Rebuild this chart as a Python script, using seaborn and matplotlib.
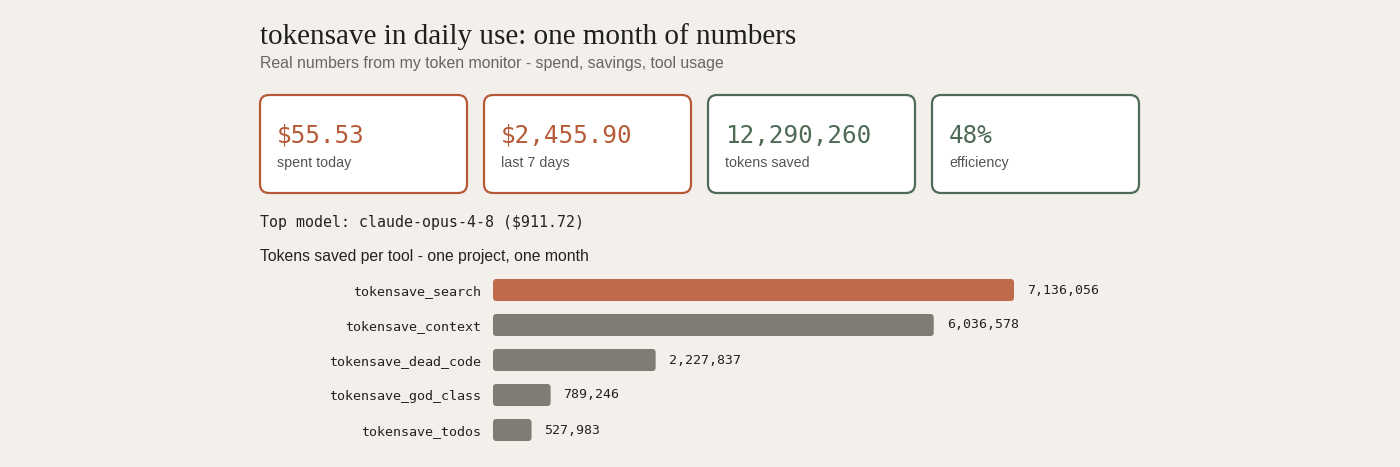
import matplotlib
matplotlib.use("Agg")
import matplotlib.pyplot as plt
from matplotlib.patches import FancyBboxPatch
import seaborn as sns
import pandas as pd

# Data
title = "tokensave in daily use: one month of numbers"
subtitle = "Real numbers from my token monitor - spend, savings, tool usage"
card_values = ["$55.53", "$2,455.90", "12,290,260", "48%"]
card_labels = ["spent today", "last 7 days", "tokens saved", "efficiency"]
card_kinds = ["cost", "cost", "saving", "saving"]
top_model = "Top model: claude-opus-4-8 ($911.72)"
chart_title = "Tokens saved per tool - one project, one month"
tools = ["tokensave_search", "tokensave_context", "tokensave_dead_code",
         "tokensave_god_class", "tokensave_todos"]
tokens_saved = [7136056, 6036578, 2227837, 789246, 527983]

# Style
BG = "#f3f0eb"
ORANGE = "#b65a37"
ORANGE_BAR = "#c06a4c"
GREEN = "#4d6a56"
GREY_BAR = "#807c74"
kind_color = {"cost": ORANGE, "saving": GREEN}

sns.set_theme(style="white")
plt.rcParams["font.family"] = ["Liberation Sans", "DejaVu Sans"]

W, H = 1400, 467
fig = plt.figure(figsize=(W / 100, H / 100), dpi=100, facecolor=BG)

# overlay axes in pixel coordinates for text and cards
lay = fig.add_axes([0, 0, 1, 1])
lay.set_xlim(0, W)
lay.set_ylim(H, 0)
lay.axis("off")
lay.set_facecolor(BG)

lay.text(260, 44, title, family="Liberation Serif", fontsize=21,
         color="#1f1f1f", va="baseline", ha="left")
lay.text(260, 68, subtitle, fontsize=11.4, color="#666666",
         va="baseline", ha="left")

card_x0, card_w, card_gap = 260, 207, 17
card_y0, card_h = 95, 98
for i, (val, lab, kind) in enumerate(zip(card_values, card_labels, card_kinds)):
    x = card_x0 + i * (card_w + card_gap)
    col = kind_color[kind]
    lay.add_patch(FancyBboxPatch((x, card_y0), card_w, card_h,
                                 boxstyle="round,pad=0,rounding_size=9",
                                 facecolor="white", edgecolor=col, linewidth=1.6))
    lay.text(x + 17, 143, val, family="DejaVu Sans Mono", fontsize=17.5,
             color=col, va="baseline", ha="left", fontweight="medium")
    lay.text(x + 17, 167, lab, fontsize=10.3, color="#555555",
             va="baseline", ha="left")

lay.text(260, 227, top_model, family="DejaVu Sans Mono", fontsize=10.7,
         color="#222222", va="baseline", ha="left")
lay.text(260, 261, chart_title, fontsize=11.3, color="#222222",
         va="baseline", ha="left")

# bar chart
df = pd.DataFrame({"tool": tools, "tokens": tokens_saved})
row_h = 35
top_px = 290 - row_h / 2
ax_h = row_h * len(tools)
ax_left, ax_w = 493, 600
ax = fig.add_axes([ax_left / W, (H - top_px - ax_h) / H, ax_w / W, ax_h / H])
ax.set_facecolor("none")
palette = [ORANGE_BAR] + [GREY_BAR] * (len(tools) - 1)
sns.barplot(data=df, x="tokens", y="tool", hue="tool", palette=palette,
            legend=False, width=0.63, ax=ax, saturation=1)
xmax = max(tokens_saved) * ax_w / 521
ax.set_xlim(0, xmax)
ax.set_ylim(len(tools) - 0.5, -0.5)
sns.despine(ax=ax, left=True, bottom=True)
ax.set_xticks([])
ax.set_xlabel("")
ax.set_ylabel("")
ax.tick_params(axis="y", length=0, pad=8.6)
for t in ax.get_yticklabels():
    t.set_family("DejaVu Sans Mono")
    t.set_fontsize(9.6)
    t.set_color("#222222")

# rounded bars: swap rectangles for rounded boxes
x_per_px = xmax / ax_w
y_per_px = 1.0 / row_h
r_px = 3.5
for bar in list(ax.patches):
    bx, by, bw, bh = bar.get_x(), bar.get_y(), bar.get_width(), bar.get_height()
    fc = bar.get_facecolor()
    bar.set_visible(False)
    ax.add_patch(FancyBboxPatch((bx, by), bw, bh,
                                boxstyle=f"round,pad=0,rounding_size={r_px * x_per_px}",
                                mutation_aspect=y_per_px / x_per_px,
                                facecolor=fc, edgecolor="none"))
    ax.text(bx + bw + 13 * x_per_px, by + bh / 2, f"{int(bw):,}",
            family="DejaVu Sans Mono", fontsize=9.5, color="#222222",
            va="center", ha="left")

fig.savefig("out.png", dpi=100, facecolor=BG)
